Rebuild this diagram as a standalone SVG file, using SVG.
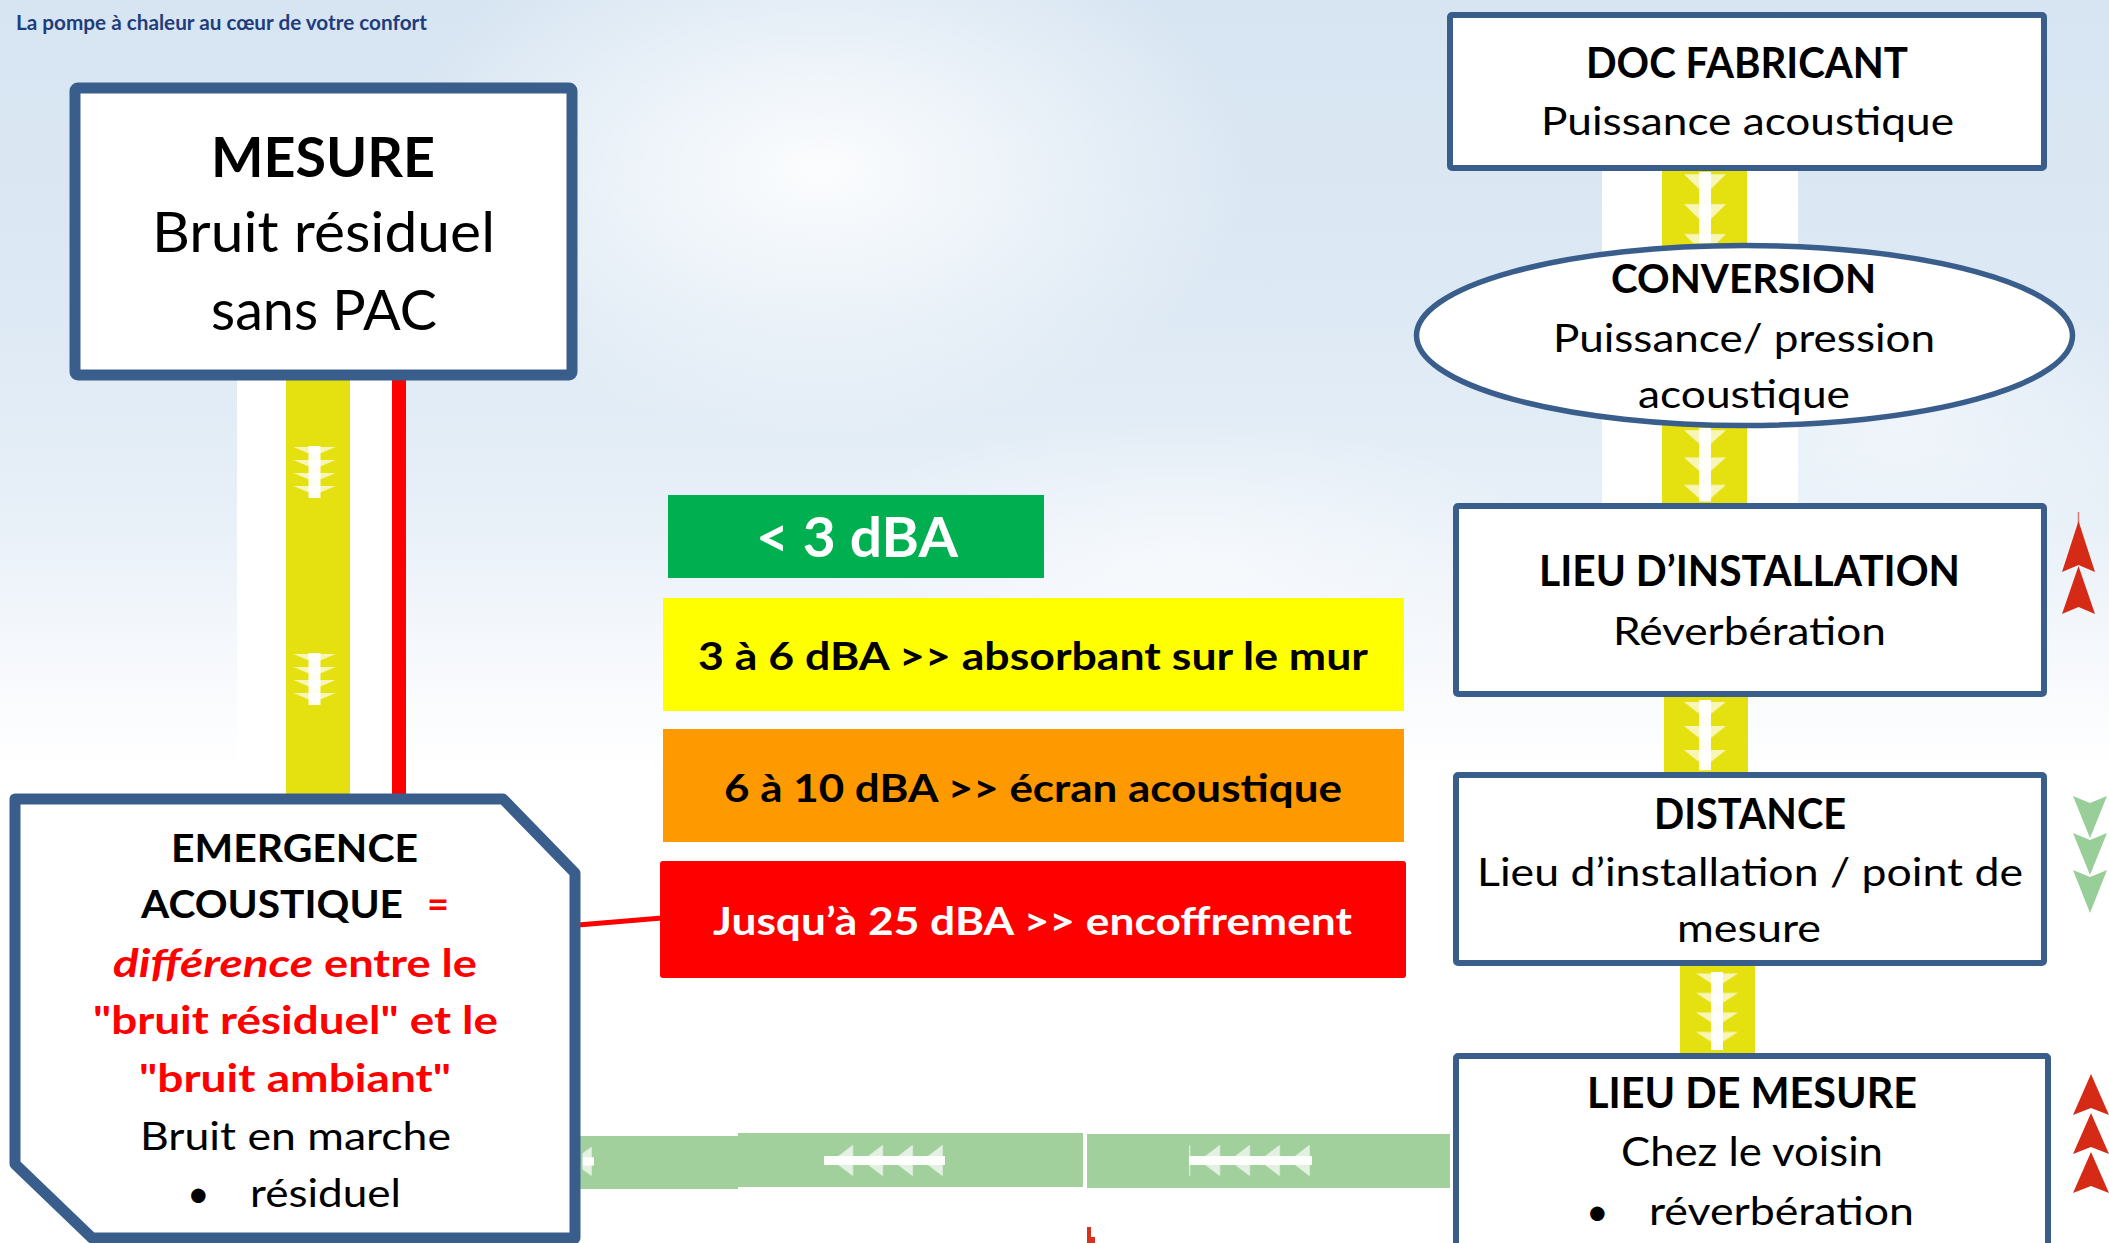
<svg xmlns="http://www.w3.org/2000/svg" width="2109" height="1243" viewBox="0 0 2109 1243">
<style>
  .t{font-family:Lato,'Open Sans','Liberation Sans',sans-serif}
  .b{font-weight:700}
  .i{font-style:italic}
  .r{fill:#FF0000}
  .k{fill:#000000}
  .w{fill:#FFFFFF}
  .box{fill:#FFFFFF;stroke:#3A5E8C;stroke-linejoin:round}
  .yel{fill:#E5E010}
  .wst{fill:#FFFFFF}
  .gr{fill:#A1D09D}
  .chain{fill:url(#pd)}
  .up{fill:#D42A16}
  .dn{fill:#98CE97}
</style>
<defs>
  <linearGradient id="sky" x1="0" y1="0" x2="0" y2="1">
    <stop offset="0" stop-color="#D7E5F2"/>
    <stop offset="0.25" stop-color="#DDE9F4"/>
    <stop offset="0.42" stop-color="#E8F0F8"/>
    <stop offset="0.52" stop-color="#F5F8FC"/>
    <stop offset="0.62" stop-color="#FFFFFF"/>
    <stop offset="1" stop-color="#FFFFFF"/>
  </linearGradient>
  <radialGradient id="glow" cx="0.5" cy="0.5" r="0.5">
    <stop offset="0" stop-color="#FFFFFF" stop-opacity="0.9"/>
    <stop offset="1" stop-color="#FFFFFF" stop-opacity="0"/>
  </radialGradient>
  <pattern id="pd" width="44" height="13" patternUnits="userSpaceOnUse">
    <path d="M1,1 H43 L22,10 Z" fill="#FFFFFF" fill-opacity="0.7"/>
    <rect x="16" y="0" width="12" height="13" fill="#FFFFFF" fill-opacity="0.95"/>
  </pattern>
</defs>

<g id="background">
  <rect x="0" y="0" width="2109" height="1243" fill="url(#sky)"/>
  <ellipse cx="820" cy="170" rx="430" ry="270" fill="url(#glow)"/>
  <ellipse cx="1180" cy="560" rx="380" ry="140" fill="url(#glow)" opacity="0.6"/>
  <ellipse cx="1900" cy="420" rx="260" ry="160" fill="url(#glow)" opacity="0.5"/>
</g>

<text id="header" class="t b" x="16" y="30" font-size="21" fill="#1F3D7A" textLength="411" lengthAdjust="spacingAndGlyphs">La pompe à chaleur au cœur de votre confort</text>

<g id="connectors">
  <!-- left: MESURE to EMERGENCE -->
  <rect class="wst" x="237" y="378" width="155" height="418"/>
  <rect class="yel" x="286" y="378" width="64" height="418"/>
  <rect x="392" y="378" width="14" height="418" fill="#FF0000"/>
  <rect class="chain" x="0" y="0" width="44" height="52" transform="translate(292.5,446)"/>
  <rect class="chain" x="0" y="0" width="44" height="52" transform="translate(292.5,653)"/>

  <!-- right column chain -->
  <rect class="wst" x="1602" y="168" width="196" height="338"/>
  <rect class="yel" x="1662" y="168" width="85" height="338"/>
  <rect class="yel" x="1664" y="694" width="84" height="81"/>
  <rect class="yel" x="1680" y="963" width="75" height="93"/>
  <rect class="chain" x="0" y="0" width="44" height="31" transform="translate(1683,172) scale(1,2.3)"/>
  <rect class="chain" x="0" y="0" width="44" height="35" transform="translate(1683,428) scale(1,2.1)"/>
  <rect class="chain" x="0" y="0" width="44" height="38" transform="translate(1683,700) scale(1,1.85)"/>
  <rect class="chain" x="0" y="0" width="44" height="52" transform="translate(1695,972) scale(1,1.5)"/>

  <!-- red link EMERGENCE to red box -->
  <line x1="578" y1="925" x2="662" y2="918" stroke="#FF0000" stroke-width="5"/>

  <!-- green bottom bar -->
  <rect class="gr" x="578" y="1136" width="160" height="53"/>
  <rect class="gr" x="738" y="1133" width="345" height="54"/>
  <rect class="gr" x="1087" y="1134" width="363" height="54"/>
  <rect class="chain" x="0" y="0" width="44" height="5" transform="translate(594,1146) rotate(90) scale(0.7,2.3)"/>
  <rect class="chain" x="0" y="0" width="44" height="52.6" transform="translate(945,1144) rotate(90) scale(0.75,2.3)"/>
  <rect class="chain" x="0" y="0" width="44" height="53.5" transform="translate(1312,1144) rotate(90) scale(0.75,2.3)"/>
  <path d="M1087,1227 h4 v10 h4 v6 h-8 Z" fill="#D8321E"/>
</g>

<g id="node-mesure">
  <rect class="box" x="75" y="88" width="497" height="287" rx="3" stroke-width="11"/>
  <text class="t b k" x="211" y="177" font-size="56" textLength="224" lengthAdjust="spacingAndGlyphs">MESURE</text>
  <text class="t k" x="152" y="252" font-size="56" textLength="343" lengthAdjust="spacingAndGlyphs">Bruit résiduel</text>
  <text class="t k" x="211" y="330" font-size="56" textLength="226" lengthAdjust="spacingAndGlyphs">sans PAC</text>
</g>

<g id="node-emergence">
  <path class="box" d="M15,799 L503,799 L575,873 L575,1238 L92,1238 L15,1164 Z" stroke-width="11"/>
  <text class="t b k" x="171" y="862" font-size="39" textLength="247" lengthAdjust="spacingAndGlyphs">EMERGENCE</text>
  <text class="t b" y="918" font-size="39"><tspan class="k" x="141" textLength="262" lengthAdjust="spacingAndGlyphs">ACOUSTIQUE</tspan><tspan class="r" x="427" textLength="22" lengthAdjust="spacingAndGlyphs">=</tspan></text>
  <text class="t b r" y="977" font-size="39"><tspan class="i" x="113" textLength="200" lengthAdjust="spacingAndGlyphs">différence</tspan><tspan x="324" textLength="153" lengthAdjust="spacingAndGlyphs">entre le</tspan></text>
  <text class="t b r" x="93" y="1034" font-size="39" textLength="405" lengthAdjust="spacingAndGlyphs">"bruit résiduel" et le</text>
  <text class="t b r" x="139" y="1092" font-size="39" textLength="312" lengthAdjust="spacingAndGlyphs">"bruit ambiant"</text>
  <text class="t k" x="140" y="1150" font-size="39" textLength="311" lengthAdjust="spacingAndGlyphs">Bruit en marche</text>
  <text class="t k" y="1207" font-size="39"><tspan x="187">•</tspan><tspan x="250" textLength="151" lengthAdjust="spacingAndGlyphs">résiduel</tspan></text>
</g>

<g id="node-lt3">
  <rect x="668" y="495" width="376" height="83" fill="#00B050"/>
  <text class="t b w" x="756" y="557" font-size="56" textLength="202" lengthAdjust="spacingAndGlyphs">&lt; 3 dBA</text>
</g>
<g id="node-3a6">
  <rect x="663" y="598" width="741" height="113" fill="#FFFF00"/>
  <text class="t b k" x="698" y="670" font-size="39" textLength="670" lengthAdjust="spacingAndGlyphs">3 à 6 dBA &gt;&gt; absorbant sur le mur</text>
</g>
<g id="node-6a10">
  <rect x="663" y="729" width="741" height="113" fill="#FF9900"/>
  <text class="t b k" x="724" y="802" font-size="39" textLength="618" lengthAdjust="spacingAndGlyphs">6 à 10 dBA &gt;&gt; écran acoustique</text>
</g>
<g id="node-25">
  <rect x="660" y="861" width="746" height="117" rx="3" fill="#FF0000"/>
  <text class="t b w" x="713" y="935" font-size="39" textLength="639" lengthAdjust="spacingAndGlyphs">Jusqu’à 25 dBA &gt;&gt; encoffrement</text>
</g>

<g id="node-doc">
  <rect class="box" x="1450" y="15" width="594" height="153" rx="2" stroke-width="6"/>
  <text class="t b k" x="1586" y="78" font-size="42" textLength="322" lengthAdjust="spacingAndGlyphs">DOC FABRICANT</text>
  <text class="t k" x="1541" y="135" font-size="39" textLength="413" lengthAdjust="spacingAndGlyphs">Puissance acoustique</text>
</g>

<g id="node-conversion">
  <ellipse class="box" cx="1744.5" cy="335.5" rx="328" ry="90" stroke-width="5.5"/>
  <text class="t b k" x="1611" y="293" font-size="40" textLength="265" lengthAdjust="spacingAndGlyphs">CONVERSION</text>
  <text class="t k" x="1553" y="352" font-size="39" textLength="382" lengthAdjust="spacingAndGlyphs">Puissance/ pression</text>
  <text class="t k" x="1638" y="408" font-size="39" textLength="212" lengthAdjust="spacingAndGlyphs">acoustique</text>
</g>

<g id="node-lieu-installation">
  <rect class="box" x="1456" y="506" width="588" height="188" rx="2" stroke-width="6"/>
  <text class="t b k" x="1539" y="586" font-size="42" textLength="421" lengthAdjust="spacingAndGlyphs">LIEU D’INSTALLATION</text>
  <text class="t k" x="1613" y="645" font-size="39" textLength="273" lengthAdjust="spacingAndGlyphs">Réverbération</text>
</g>

<g id="node-distance">
  <rect class="box" x="1456" y="775" width="588" height="188" rx="2" stroke-width="6"/>
  <text class="t b k" x="1654" y="829" font-size="42" textLength="192" lengthAdjust="spacingAndGlyphs">DISTANCE</text>
  <text class="t k" x="1477" y="886" font-size="39" textLength="546" lengthAdjust="spacingAndGlyphs">Lieu d’installation / point de</text>
  <text class="t k" x="1677" y="942" font-size="39" textLength="144" lengthAdjust="spacingAndGlyphs">mesure</text>
</g>

<g id="node-lieu-mesure">
  <rect class="box" x="1456" y="1056" width="592" height="220" rx="2" stroke-width="6"/>
  <text class="t b k" x="1587" y="1108" font-size="42" textLength="330" lengthAdjust="spacingAndGlyphs">LIEU DE MESURE</text>
  <text class="t k" x="1621" y="1166" font-size="40" textLength="262" lengthAdjust="spacingAndGlyphs">Chez le voisin</text>
  <text class="t k" y="1225" font-size="39"><tspan x="1586">•</tspan><tspan x="1649" textLength="265" lengthAdjust="spacingAndGlyphs">réverbération</tspan></text>
</g>

<g id="indicators">
  <path d="M2078.5,512 V525" stroke="#D42A16" stroke-width="1.5" stroke-opacity="0.6"/>
  <path class="up" d="M2078.5,521 L2095,572 L2078.5,565 L2062,572 Z"/>
  <path class="up" d="M2078.5,566 L2095,614 L2078.5,607 L2062,614 Z"/>
  <path class="dn" d="M2073,796 L2090,803 L2107,796 L2090,838 Z"/>
  <path class="dn" d="M2073,833 L2090,840 L2107,833 L2090,875 Z"/>
  <path class="dn" d="M2073,870 L2090,877 L2107,870 L2090,913 Z"/>
  <path class="up" d="M2091,1074 L2109,1115 L2091,1108 L2073,1115 Z"/>
  <path class="up" d="M2091,1113 L2109,1154 L2091,1147 L2073,1154 Z"/>
  <path class="up" d="M2091,1152 L2109,1193 L2091,1186 L2073,1193 Z"/>
</g>
</svg>
